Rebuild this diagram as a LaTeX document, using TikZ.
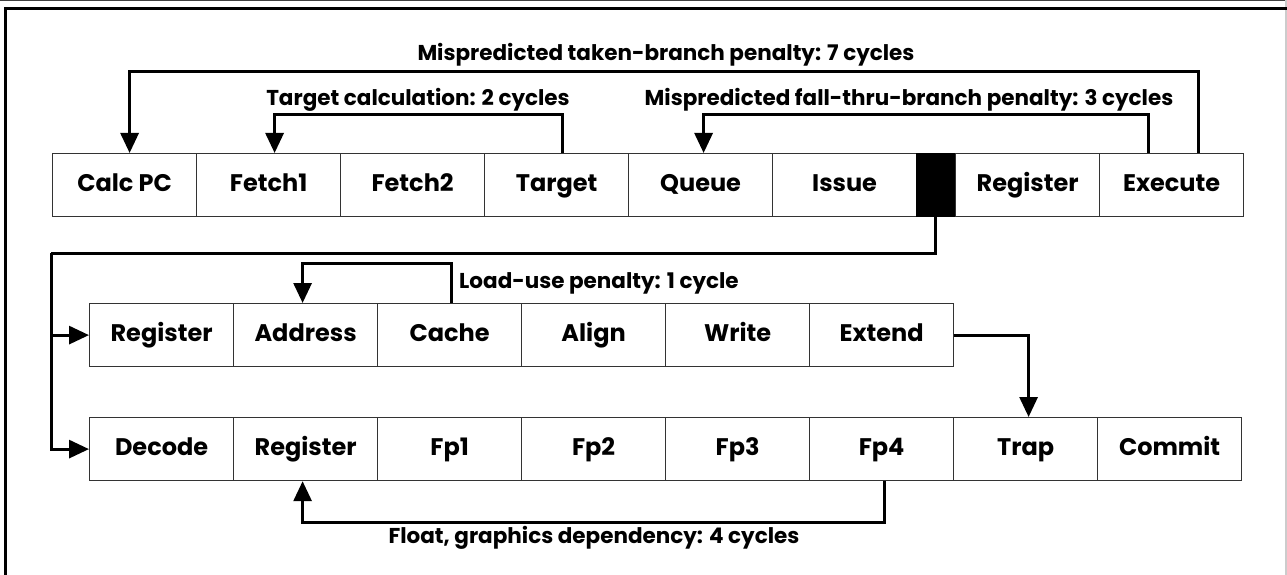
\documentclass[tikz,border=0pt]{standalone}
\usepackage{fontspec}
\setmainfont{Poppins}
\usetikzlibrary{arrows.meta,calc}
\begin{document}
\begin{tikzpicture}[x=1pt,y=-1pt,
  stage/.style={draw=black!80,line width=1.2pt,minimum width=144pt,minimum height=63pt,
    inner sep=0pt,text height=17pt,text depth=5pt,anchor=north west,
    font=\fontsize{24}{28}\selectfont\bfseries},
  latch/.style={draw=black,fill=black,minimum width=39pt,minimum height=63pt,inner sep=0pt,anchor=north west},
  wire/.style={line width=3pt,line join=miter},
  arr/.style={wire,-{Triangle[length=20pt,width=18pt]}},
  lbl/.style={font=\fontsize{21.5}{25}\selectfont\bfseries,inner sep=0pt,text height=15pt,text depth=4pt}]
\useasboundingbox (0,0) rectangle (1287,575);
% page frame
\draw[black!75,line width=1pt] (0,0.5) -- (1287,0.5);
\draw[black!20,line width=1.5pt] (1286,0) -- (1286,575);
\draw[line width=3pt] (5,575) -- (5,9) -- (1287,9);

% fetch / issue pipeline
\node[stage] (calc) at (52,153) {Calc PC};
\node[stage] (f1) at (196,153) {Fetch1};
\node[stage] (f2) at (340,153) {Fetch2};
\node[stage] (tgt) at (484,153) {Target};
\node[stage] (que) at (628,153) {Queue};
\node[stage] (iss) at (772,153) {Issue};
\node[latch] (blk) at (916,153) {};
\node[stage] (reg) at (955,153) {Register};
\node[stage] (exe) at (1099,153) {Execute};

% memory pipeline
\node[stage] (mreg) at (89,303) {Register};
\node[stage] (addr) at (233,303) {Address};
\node[stage] (cache) at (377,303) {Cache};
\node[stage] (align) at (521,303) {Align};
\node[stage] (write) at (665,303) {Write};
\node[stage] (ext) at (809,303) {Extend};

% floating-point pipeline
\node[stage] (dec) at (89,417) {Decode};
\node[stage] (freg) at (233,417) {Register};
\node[stage] (fp1) at (377,417) {Fp1};
\node[stage] (fp2) at (521,417) {Fp2};
\node[stage] (fp3) at (665,417) {Fp3};
\node[stage] (fp4) at (809,417) {Fp4};
\node[stage] (trap) at (953,417) {Trap};
\node[stage] (com) at (1097,417) {Commit};

% feedback paths
\draw[arr] ([xshift=27pt]exe.north) -- ++(0,-81) -| ([xshift=5pt]calc.north);
\node[lbl] (l1) at (666,55) {Mispredicted taken-branch penalty: 7 cycles};

\draw[arr] ([xshift=6pt]tgt.north) -- ++(0,-38) -| ([xshift=6pt]f1.north);
\node[lbl] (l2) at (418,100) {Target calculation: 2 cycles};

\draw[arr] ([xshift=-23pt]exe.north) -- ++(0,-38) -| ([xshift=3pt]que.north);
\node[lbl] (l3) at (909,100) {Mispredicted fall-thru-branch penalty: 3 cycles};

% issue fan-out
\coordinate (bus) at (51,253);
\draw[wire] (blk.south) |- (bus);
\draw[arr] (bus) |- (dec.west);
\draw[arr] (bus |- mreg.west) -- (mreg.west);

\draw[arr] ([xshift=2pt]cache.north) -- ++(0,-40) -| ([xshift=-3pt]addr.north);
\node[lbl,anchor=west] (l4) at (459,283) {Load-use penalty: 1 cycle};

\draw[arr] (ext.east) -| ([xshift=3pt]trap.north);

\draw[arr] ([xshift=3pt]fp4.south) -- ++(0,41) -| ([xshift=-3pt]freg.south);
\node[lbl] (l5) at (594,538) {Float, graphics dependency: 4 cycles};
\end{tikzpicture}
\end{document}
